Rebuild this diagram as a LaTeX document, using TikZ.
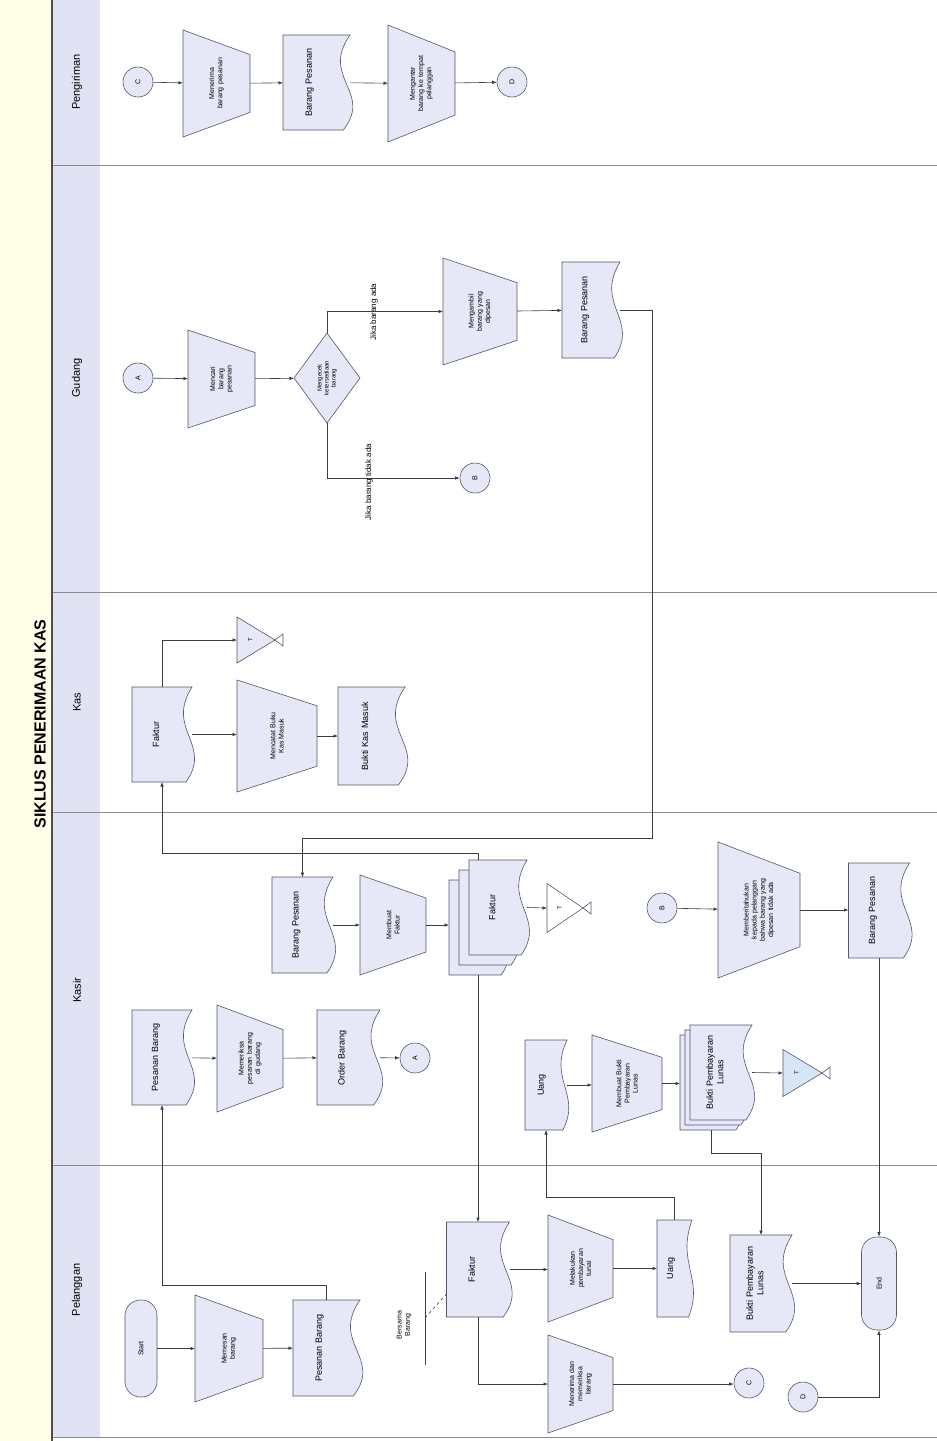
\documentclass[tikz,border=0pt]{standalone}
\usepackage{fontspec}
\setmainfont{Liberation Sans}
\usetikzlibrary{arrows.meta,calc}
\definecolor{shfill}{HTML}{E6E8F8}
\definecolor{shline}{HTML}{55576A}
\definecolor{conn}{HTML}{3C3C44}
\definecolor{yel}{HTML}{FEFDE8}
\definecolor{hdr}{HTML}{E1E3F5}
\definecolor{sepc}{HTML}{8A8A90}
\definecolor{trib}{HTML}{D6E6F6}

\newcommand\nohy{\hyphenpenalty=10000\exhyphenpenalty=10000 }
\tikzset{
  box/.style={draw=none,inner sep=0pt,outer sep=0pt},
  shp/.style={fill=shfill,draw=shline,line width=0.6pt},
  arr/.style={draw=conn,line width=0.6pt,-{Latex[length=4.5pt,width=3.5pt]}},
  pln/.style={draw=conn,line width=0.6pt},
  dtxt/.style={rotate=90,align=center,font=\nohy\fontsize{9}{10.5}\selectfont,inner sep=0pt},
  ptxt/.style={rotate=90,align=center,font=\nohy\fontsize{7}{8.2}\selectfont,inner sep=0pt},
  smtxt/.style={rotate=90,align=center,font=\nohy\fontsize{6}{7}\selectfont,inner sep=0pt},
  lbltxt/.style={rotate=90,align=center,font=\fontsize{8}{9}\selectfont,inner sep=0pt},
  lanelbl/.style={rotate=90,font=\fontsize{11}{12}\selectfont},
  cnc/.style={circle,minimum size=30pt,inner sep=0pt,fill=shfill,draw=shline,line width=0.6pt,font=\fontsize{7}{8}\selectfont},
  termin/.style={rectangle,rounded corners=15.5pt,fill=shfill,draw=shline,line width=0.6pt,inner sep=0pt},
  sepl/.style={draw=sepc,line width=0.8pt}
}

\newcommand\DocPath[5]{%
  \filldraw[#5] ({#1-#3/2},{#2-#4/2}) -- ({#1+#3/2},{#2-#4/2})
    .. controls ({#1+#3/2-0.45*#3},{#2-#4/2+0.45*#4}) and ({#1+#3/2+0.35*#3},{#2-#4/2+0.6*#4})
    .. ({#1+#3/2-0.1*#3},{#2+#4/2}) -- ({#1-#3/2},{#2+#4/2}) -- cycle;}

\newcommand\DocS[6]{%
  \node[box,minimum width=#4pt,minimum height=#5pt] (#1) at (#2,#3) {};
  \DocPath{#2}{#3}{#4}{#5}{shp}
  \pgfmathsetmacro\mytw{0.85*#5}
  \node[dtxt,text width=\mytw pt] (#1-t) at ({#2-0.1*#4},#3) {#6};}

\newcommand\MDocS[8]{% front back cx cy w h offset text
  \node[box,minimum width=#5pt,minimum height=#6pt] (#2) at ({#3-2*#7},{#4+2*#7}) {};
  \DocPath{#3-2*#7}{#4+2*#7}{#5}{#6}{shp}
  \DocPath{#3-#7}{#4+#7}{#5}{#6}{shp}
  \node[box,minimum width=#5pt,minimum height=#6pt] (#1) at (#3,#4) {};
  \DocPath{#3}{#4}{#5}{#6}{shp}
  \pgfmathsetmacro\mytw{0.85*#6}
  \node[dtxt,text width=\mytw pt] (#1-t) at ({#3-0.1*#5},#4) {#8};}

\newcommand\ManS[6]{%
  \node[box,minimum width=#4pt,minimum height=#5pt] (#1) at (#2,#3) {};
  \filldraw[shp] ({#2-#4/2},{#3-#5/2}) -- ({#2+#4/2},{#3-#5/2+0.23*#5})
     -- ({#2+#4/2},{#3+#5/2-0.23*#5}) -- ({#2-#4/2},{#3+#5/2}) -- cycle;
  \pgfmathsetmacro\mytw{0.5*#5}
  \node[ptxt,text width=\mytw pt] (#1-t) at (#2,#3) {#6};}

\newcommand\TriS[6]{% name left cy w h fill
  \node[box,minimum width=#4pt,minimum height=#5pt] (#1) at ({#2+#4/2},#3) {};
  \filldraw[shp,fill=#6] (#2,{#3-#5/2}) -- ({#2+#4},#3) -- (#2,{#3+#5/2}) -- cycle;
  \draw[draw=shline,line width=0.6pt] ({#2+#4},#3) -- ({#2+#4+8},{#3-6}) -- ({#2+#4+8},{#3+6}) -- cycle;
  \node[smtxt] (#1-t) at ({#2+#4*0.35},#3) {T};}

\newcommand\TermS[6]{%
  \node[termin,minimum width=#4pt,minimum height=#5pt] (#1) at (#2,#3) {};
  \node[ptxt] (#1-t) at (#2,#3) {#6};}

\begin{document}
\begin{tikzpicture}[x=1pt,y=-1pt]
\useasboundingbox (0,0) rectangle (937,1441);
\fill[white] (0,0) rectangle (937,1441);
\fill[yel] (0,0) rectangle (52,1441);
\fill[hdr] (52,0) rectangle (100,1437);
\foreach \yy in {165,592,812,1165,1437} \draw[sepl] (52,\yy) -- (937,\yy);
\draw[draw=gray!60!black,line width=2.5pt] (52,0) -- (52,1441);

\node[rotate=90,font=\bfseries\fontsize{16}{18}\selectfont] (title) at (40,724) {SIKLUS PENERIMAAN KAS};

\node[lanelbl] (lnPg) at (77,82) {Pengiriman};
\node[lanelbl] (lnGd) at (77,378) {Gudang};
\node[lanelbl] (lnKs) at (77,702) {Kas};
\node[lanelbl] (lnKr) at (77,990) {Kasir};
\node[lanelbl] (lnPl) at (77,1290) {Pelanggan};

% ---------------- Pengiriman
\node[cnc] (cC2) at (138,82) {\rotatebox{90}{C}};
\ManS{pg1}{216.5}{83.5}{67}{107}{Menerima barang pesanan}
\DocS{pg2}{316.5}{82.5}{67}{95}{Barang Pesanan}
\ManS{pg3}{421.5}{83.5}{67}{117}{Mengantar barang ke tempat pelanggan}
\node[cnc] (cD2) at (512,82) {\rotatebox{90}{D}};
\draw[arr] (cC2) -- (pg1);
\draw[arr] (pg1) -- (pg2);
\draw[arr] (pg2) -- (pg3);
\draw[arr] (pg3) -- (cD2);

% ---------------- Gudang
\node[cnc] (cA2) at (138,378) {\rotatebox{90}{A}};
\ManS{gd1}{221.5}{379}{67}{98}{Mencari barang pesanan}
\node[box,minimum width=66pt,minimum height=90pt] (gd2) at (327,378) {};
\filldraw[shp] (gd2.north) -- (gd2.east) -- (gd2.south) -- (gd2.west) -- cycle;
\node[smtxt,text width=44pt] (gd2-t) at (327,378) {Mengecek ketersediaan barang};
\ManS{gd3}{480}{311.5}{74}{107}{Mengambil barang yang dipesan}
\DocS{gd4}{591}{310}{58}{96}{Barang Pesanan}
\node[cnc] (cB1) at (475,478) {\rotatebox{90}{B}};
\node[lbltxt] (lbAda) at (374,312) {Jika barang ada};
\node[lbltxt] (lbTdk) at (369,482) {Jika barang tidak ada};
\draw[arr] (cA2) -- (gd1);
\draw[arr] (gd1) -- (gd2);
\draw[arr] (gd2.north) |- (gd3.west);
\draw[arr] (gd2.south) |- (cB1.west);
\draw[arr] (gd3) -- (gd4);

% ---------------- Kas
\DocS{ka1}{162}{734.5}{60}{95}{Faktur}
\ManS{ka2}{277}{736}{80}{112}{Mencatat Buku Kas Masuk}
\DocS{ka3}{371.5}{736}{67}{98}{Bukti Kas Masuk}
\TriS{ka4}{237}{640}{38}{46}{shfill}
\draw[arr] (ka1.east) -- (ka1.east -| ka2.west);
\draw[arr] (ka2) -- (ka3);
\draw[arr] (ka1.north) |- (ka4.west);

% ---------------- Kasir row 1
\DocS{ks1}{302.5}{925}{61}{96}{Barang Pesanan}
\ManS{ks2}{393}{925}{66}{100}{Membuat Faktur}
\MDocS{ks3}{ks3b}{498}{907.5}{58}{95}{10}{Faktur}
\TriS{ks4}{547}{908}{36}{49}{white}
\node[cnc] (cB2) at (662,908) {\rotatebox{90}{B}};
\ManS{ks5}{759}{910}{82}{136}{Memberitahukan kepada pelanggan bahwa barang yang dipesan tidak ada}
\DocS{ks6}{879}{910.5}{61}{95}{Barang Pesanan}
\draw[arr] (ks1) -- (ks2);
\draw[arr] (ks2.east) -- (ks2.east -| ks3b.west);
\draw[arr] (ks3.east) -- (ks4.west);
\draw[arr] (cB2) -- (ks5);
\draw[arr] (ks5) -- (ks5 -| ks6.west);

% ---------------- Kasir row 2
\DocS{ks7}{162}{1057.5}{60}{95}{Pesanan Barang}
\ManS{ks8}{250}{1058.5}{66}{107}{Memeriksa pesanan barang di gudang}
\DocS{ks9}{348.5}{1057.5}{63}{95}{Order Barang}
\node[cnc] (cA1) at (415,1058) {\rotatebox{90}{A}};
\DocS{ks10}{546}{1085}{42}{90}{Uang}
\ManS{ks11}{627}{1083.5}{70}{97}{Membuat Bukti Pembayaran Lunas}
\MDocS{ks12}{ks12b}{721}{1072.5}{62}{95}{5}{Bukti Pembayaran Lunas}
\TriS{ks13}{783}{1073}{39}{47}{trib}
\draw[arr] (ks7) -- (ks8);
\draw[arr] (ks8) -- (ks9);
\draw[arr] (ks9) -- (cA1);
\draw[arr] (ks10.east) -- (ks10.east -| ks11.west);
\draw[arr] (ks11.east) -- (ks11.east -| ks12b.west);
\draw[arr] (ks12.east) -- (ks13.west);

% ---------------- Pelanggan
\TermS{pl1}{141}{1348.5}{32}{97}{Start}
\ManS{pl2}{229}{1348.5}{68}{107}{Memesan barang}
\DocS{pl3}{326.5}{1348}{67}{96}{Pesanan Barang}
\node[ptxt] (bersama) at (404,1325) {Bersama\\Barang};
\coordinate (brT) at (425,1272);
\coordinate (brB) at (425,1365);
\coordinate (brM) at (425,1318);
\draw[pln] (brT) -- (brB);
\DocS{pl4}{478}{1269.5}{63}{95}{Faktur}
\draw[pln,dashed] (brM) -- (pl4.west |- 0,1294);
\ManS{pl5}{580.5}{1268.5}{65}{107}{Melakukan pembayaran tunai}
\DocS{pl6}{674.5}{1268.5}{35}{97}{Uang}
\ManS{pl7}{580.5}{1384}{65}{98}{Menerima dan memeriksa barang}
\node[cnc] (cC1) at (749,1383) {\rotatebox{90}{C}};
\node[cnc] (cD1) at (803,1397) {\rotatebox{90}{D}};
\DocS{pl8}{761}{1283.5}{62}{97}{Bukti Pembayaran Lunas}
\TermS{pl9}{879}{1283.5}{35}{93}{End}
\draw[arr] (pl1) -- (pl2);
\draw[arr] (pl2) -- (pl3);
\draw[arr] (pl4.east) -- (pl4.east -| pl5.west);
\draw[arr] (pl5.east) -- (pl5.east -| pl6.west);
\draw[arr] (pl4.south) |- (pl7.west);
\draw[arr] (pl7.east) -- (pl7.east -| cC1.west);
\draw[arr] (pl8.east) -- (pl8.east -| pl9.west);
\draw[arr] (cD1.east) -| (pl9.south);

% ---------------- cross-lane connectors
\coordinate (gA) at (652,838);
\draw[arr] (gd4.east) -| (gA) -| (ks1.north);
\coordinate (fA) at (162,853);
\draw[arr] (ks3.north -| ks3b.north) |- (fA) -- (ka1.south);
\coordinate (pA) at (162,1285);
\draw[arr] (pl3.north) |- (pA) -- (ks7.south);
\draw[arr] (ks3b.south) -- (pl4.north);
\draw[arr] (ks6.south) -- (pl9.north);
\coordinate (bA) at (711,1153);
\draw[arr] (ks12b.south) -- (bA) -| (pl8.north);
\coordinate (uA) at (546,1197);
\draw[arr] (pl6.north) |- (uA) -- (ks10.south);
\end{tikzpicture}
\end{document}
